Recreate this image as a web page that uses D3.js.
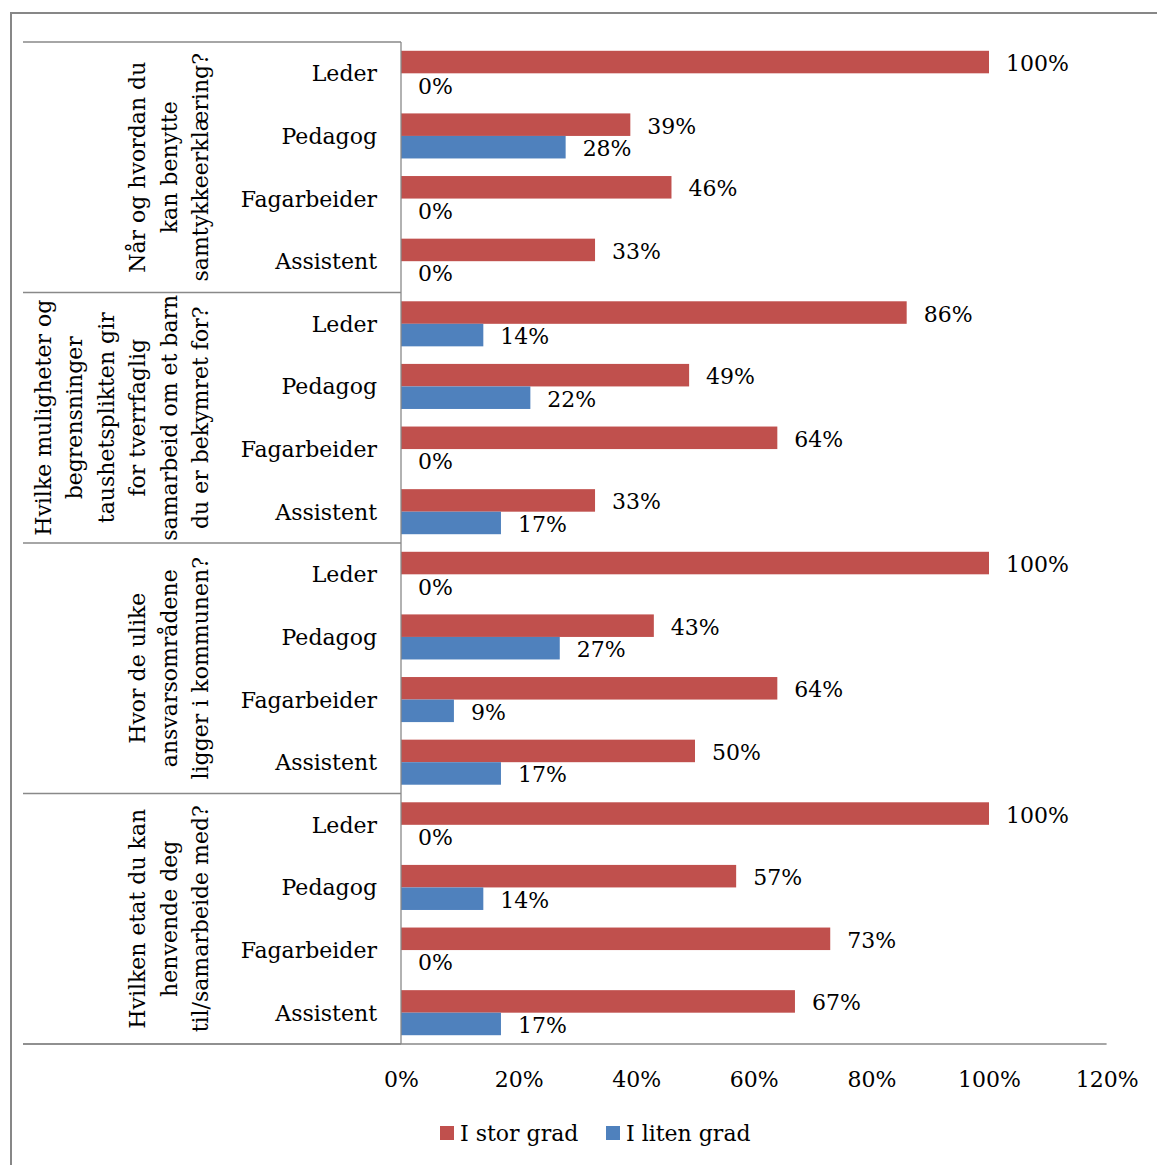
<!DOCTYPE html>
<html>
<head>
<meta charset="utf-8">
<script src="https://cdn.jsdelivr.net/npm/d3@7"></script>
<style>
  html, body { margin: 0; padding: 0; background: #ffffff; }
  svg { display: block; }
  text { font-family: "DejaVu Serif", serif; font-size: 22px; fill: #000; }
</style>
</head>
<body>
<svg id="chart" width="1157" height="1165"></svg>
<script>
// Questions (each wrapped onto several lines for the rotated group labels)
const questions = [
  ["Når og hvordan du", "kan benytte", "samtykkeerklæring?"],
  ["Hvilke muligheter og", "begrensninger", "taushetsplikten gir", "for tverrfaglig", "samarbeid om et barn", "du er bekymret for?"],
  ["Hvor de ulike", "ansvarsområdene", "ligger i kommunen?"],
  ["Hvilken etat du kan", "henvende deg", "til/samarbeide med?"]
];
const roles = ["Leder", "Pedagog", "Fagarbeider", "Assistent"];

// Share answering per question × role, in percent
const storGrad  = [100, 39, 46, 33,   86, 49, 64, 33,   100, 43, 64, 50,   100, 57, 73, 67];
const litenGrad = [0, 28, 0, 0,       14, 22, 0, 17,    0, 27, 9, 17,      0, 14, 0, 17];

const seriesNames = ["I stor grad", "I liten grad"];
const seriesColors = ["#C0504D", "#4F81BD"];
const xTicks = [0, 20, 40, 60, 80, 100, 120];

const svg = d3.select("#chart");
const plotLeft = 401, plotRight = 1106.6, plotTop = 42, plotBottom = 1044, labelLeft = 23;
const gridColor = "#898989";

// Outer frame
svg.append("rect")
  .attr("x", 11).attr("y", 13).attr("width", 1170).attr("height", 1170)
  .attr("fill", "none").attr("stroke", "#878787").attr("stroke-width", 2);

const x = d3.scaleLinear().domain([0, 120]).range([plotLeft, plotRight]);
const yGroup = d3.scaleBand().domain(d3.range(questions.length)).range([plotTop, plotBottom]);
const yRole = d3.scaleBand().domain(roles).range([0, yGroup.bandwidth()]);
const ySeries = d3.scaleBand().domain([0, 1]).range([0, yRole.bandwidth()])
  .paddingInner(0).paddingOuter(0.39);

// Flatten to rows
const rows = [];
questions.forEach((q, gi) => {
  roles.forEach((r, ri) => {
    const idx = gi * roles.length + ri;
    rows.push({ gi, role: r, values: [storGrad[idx], litenGrad[idx]] });
  });
});

// Bars
const rowG = svg.append("g").selectAll("g").data(rows).join("g")
  .attr("transform", d => `translate(0,${yGroup(d.gi) + yRole(d.role)})`);

rowG.selectAll("rect").data(d => d.values.map((v, s) => ({ v, s }))).join("rect")
  .attr("x", x(0))
  .attr("y", d => ySeries(d.s))
  .attr("width", d => x(d.v) - x(0))
  .attr("height", ySeries.bandwidth())
  .attr("fill", d => seriesColors[d.s]);

// Value labels
rowG.selectAll("text.val").data(d => d.values.map((v, s) => ({ v, s }))).join("text")
  .attr("class", "val")
  .attr("x", d => x(d.v) + 17)
  .attr("y", d => ySeries(d.s) + ySeries.bandwidth() / 2 + 9)
  .text(d => d.v + "%");

// Role labels
rowG.append("text")
  .attr("x", 377)
  .attr("y", yRole.bandwidth() / 2 + 8)
  .attr("text-anchor", "end")
  .text(d => d.role);

// Group separators on the category side
const seps = yGroup.domain().map(g => yGroup(g)).concat([plotBottom]);
svg.append("g").selectAll("line").data(seps).join("line")
  .attr("x1", labelLeft).attr("x2", plotLeft)
  .attr("y1", d => d).attr("y2", d => d)
  .attr("stroke", gridColor).attr("stroke-width", 1.3);

// Vertical category axis line
svg.append("line")
  .attr("x1", plotLeft).attr("x2", plotLeft).attr("y1", plotTop).attr("y2", plotBottom)
  .attr("stroke", gridColor).attr("stroke-width", 1.3);

// Horizontal value axis line
svg.append("line")
  .attr("x1", labelLeft).attr("x2", plotRight).attr("y1", plotBottom).attr("y2", plotBottom)
  .attr("stroke", gridColor).attr("stroke-width", 1.6);

// Rotated question labels
const lineStep = 31.5, lastBaseline = 208;
questions.forEach((lines, gi) => {
  const cy = yGroup(gi) + yGroup.bandwidth() / 2;
  lines.forEach((ln, i) => {
    const bx = lastBaseline - (lines.length - 1 - i) * lineStep;
    svg.append("text")
      .attr("transform", `translate(${bx},${cy}) rotate(-90)`)
      .attr("text-anchor", "middle")
      .text(ln);
  });
});

// Value axis tick labels
const xAxis = d3.axisBottom(x).tickValues(xTicks).tickSize(0).tickPadding(0)
  .tickFormat(d => d + "%");
const axG = svg.append("g").attr("transform", `translate(0,${plotBottom})`).call(xAxis);
axG.select(".domain").remove();
axG.selectAll("text")
  .attr("y", 43).attr("dy", null)
  .attr("font-family", "DejaVu Serif").attr("font-size", 22).attr("fill", "#000");

// Legend
const legendX = [440, 606];
const lg = svg.append("g").selectAll("g").data(seriesNames).join("g")
  .attr("transform", (d, i) => `translate(${legendX[i]},1126)`);
lg.append("rect").attr("width", 14).attr("height", 14)
  .attr("fill", (d, i) => seriesColors[i]);
lg.append("text").attr("x", 20).attr("y", 15).text(d => d);
</script>
</body>
</html>
